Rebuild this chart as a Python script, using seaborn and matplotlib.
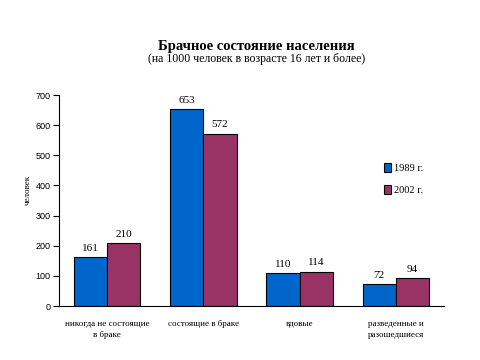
import matplotlib
matplotlib.use("Agg")
import matplotlib.pyplot as plt
import seaborn as sns
import pandas as pd
import numpy as np

categories = ["никогда не состоящие\nв браке", "состоящие в браке", "вдовые", "разведенные и\nразошедшиеся"]
series_names = ["1989 г.", "2002 г."]
values_1989 = [161, 653, 110, 72]
values_2002 = [210, 572, 114, 94]

df = pd.DataFrame({
    "cat": categories * 2,
    "year": [series_names[0]] * 4 + [series_names[1]] * 4,
    "val": values_1989 + values_2002,
})

sns.set_theme(style="white")
plt.rcParams['font.family'] = ['Liberation Serif', 'DejaVu Serif']
plt.rcParams['text.color'] = 'black'
plt.rcParams['axes.labelcolor'] = 'black'
plt.rcParams['xtick.color'] = 'black'
plt.rcParams['ytick.color'] = 'black'

fig = plt.figure(figsize=(4.8, 3.6), dpi=100)
ax = fig.add_axes([0.123, 0.15, 0.802, 0.586])

palette = {"1989 г.": "#0066CC", "2002 г.": "#993366"}
sns.barplot(data=df, x="cat", y="val", hue="year", palette=palette, ax=ax,
            width=0.69, edgecolor="black", linewidth=0.8, saturation=1, legend=True)

for cont in ax.containers:
    ax.bar_label(cont, labels=[f"{int(v)}" for v in cont.datavalues], padding=3, fontsize=8, color='black')

ax.set_ylim(0, 700)
ax.set_xlim(-0.5, 3.5)
ax.set_yticks(range(0, 701, 100))
ax.set_yticklabels([str(v) for v in range(0, 701, 100)], family='Liberation Sans', fontsize=6.5)
ax.set_xticks(range(4))
ax.set_xticklabels(categories, fontsize=6.5, linespacing=1.6)
ax.set_xticks(np.arange(-0.5, 4, 1), minor=True)
ax.tick_params(axis='x', which='major', length=0, pad=10)
ax.tick_params(axis='x', which='minor', length=4, width=0.8, direction='out', color='black')
ax.tick_params(axis='y', length=4, width=0.8, direction='out', color='black', left=True, pad=2)
ax.set_xlabel("")
ax.set_ylabel("человек", fontsize=6.5)
ax.yaxis.set_label_coords(-0.07, 0.55)

for s in ["top", "right"]:
    ax.spines[s].set_visible(False)
for s in ["left", "bottom"]:
    ax.spines[s].set_color("black")
    ax.spines[s].set_linewidth(0.8)

leg = ax.legend(loc="upper left", bbox_to_anchor=(0.82, 0.72), frameon=False, fontsize=7.5,
                handlelength=0.7, handleheight=0.9, handletextpad=0.3, labelspacing=1.1)

fig.text(0.535, 0.872, "Брачное состояние населения", ha="center", va="center",
         fontsize=10.5, fontweight="bold")
fig.text(0.535, 0.835, "(на 1000 человек в возрасте 16 лет и более)", ha="center", va="center",
         fontsize=8.5)

fig.savefig("out.png", dpi=100)
